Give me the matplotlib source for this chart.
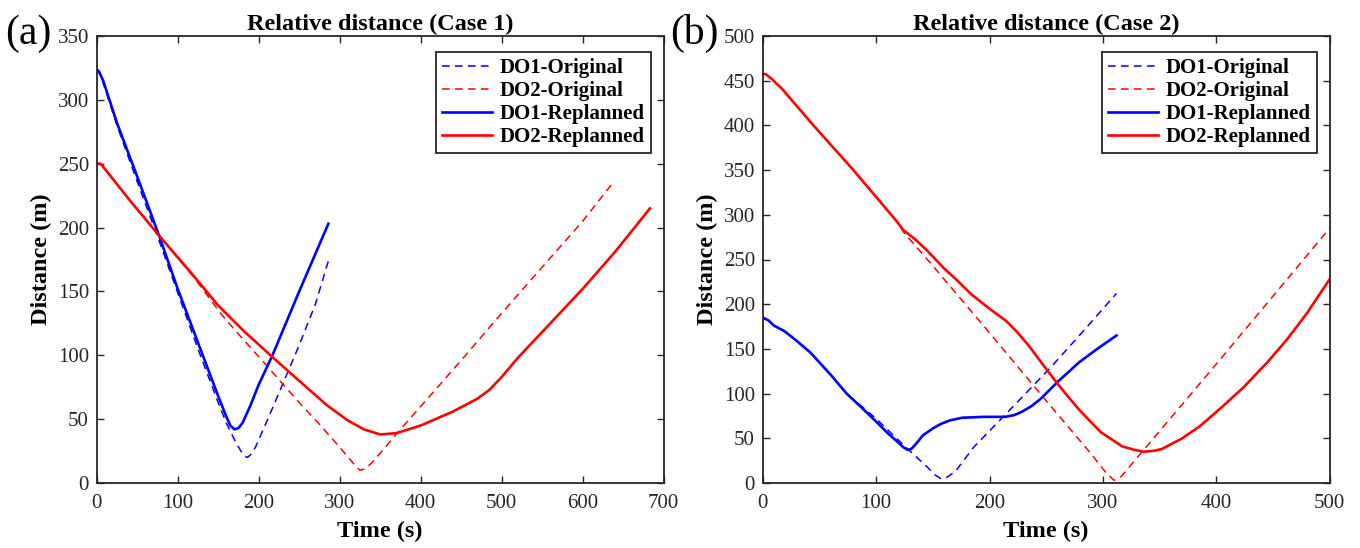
import matplotlib
matplotlib.use("Agg")
import matplotlib.pyplot as plt

plt.rcParams['font.family'] = ['Liberation Serif', 'DejaVu Serif']
plt.rcParams['mathtext.fontset'] = 'stix'

# ---------------- Case 1 data ----------------
a_do1_orig_t = [0, 5, 25, 50, 78, 100, 125, 150, 160, 170, 178, 183, 186, 190, 196, 205, 220, 232, 250, 270, 287]
a_do1_orig_d = [324, 319, 280, 236, 188, 149, 105, 63, 47, 34, 25, 21, 20, 22, 28, 41, 63, 81, 108, 140, 176]

a_do2_orig_t = [0, 5, 40, 78, 120, 154, 180, 200, 225, 250, 275, 300, 312, 320, 325, 331, 340, 355, 375, 400, 450, 500, 550, 600, 636]
a_do2_orig_d = [250, 250, 222, 193, 161, 132, 113, 99, 81, 63, 46, 28, 19, 13, 10, 11, 16, 27, 42, 60, 96, 133, 169, 205, 234]

a_do1_repl_t = [0, 3, 8, 25, 50, 78, 100, 125, 150, 160, 165, 170, 175, 180, 190, 200, 217, 250, 286]
a_do1_repl_d = [324, 322, 315, 282, 240, 192, 152, 110, 68, 52, 45, 42, 43, 47, 61, 77, 100, 150, 203]

a_do2_repl_t = [0, 5, 40, 78, 120, 150, 180, 218, 250, 284, 310, 330, 350, 370, 400, 440, 470, 485, 500, 520, 560, 600, 640, 683]
a_do2_repl_d = [250, 250, 222, 193, 162, 139, 120, 98, 80, 61, 49, 42, 38, 39, 45, 56, 66, 73, 83, 98, 125, 152, 181, 215]

# ---------------- Case 2 data ----------------
b_do1_orig_t = [0, 5, 10, 19, 30, 42, 60, 74, 100, 127, 145, 152, 157, 162, 170, 186, 209, 253, 280, 312]
b_do1_orig_d = [185, 182, 176, 170, 159, 146, 121, 100, 72, 39, 18, 9, 5, 6, 13, 40, 70, 128, 166, 212]

b_do2_orig_t = [0, 3, 8, 12, 17, 42, 80, 100, 118, 124, 150, 200, 250, 290, 303, 310, 316, 330, 350, 400, 450, 500]
b_do2_orig_d = [458, 457, 452, 447, 441, 404, 350, 320, 293, 281, 243, 168, 92, 32, 11, 3, 7, 28, 58, 133, 209, 285]

b_do1_repl_t = [0, 5, 10, 19, 30, 42, 60, 74, 85, 99, 110, 118, 124, 128, 131, 136, 141, 150, 157, 165, 176, 195, 214, 222, 229, 237, 245, 260, 279, 295, 312]
b_do1_repl_d = [185, 182, 176, 170, 159, 146, 121, 100, 87, 70, 56, 47, 40, 37, 38, 45, 53, 61, 66, 70, 73, 74, 74, 76, 80, 86, 94, 113, 135, 150, 165]

b_do2_repl_t = [0, 3, 8, 12, 17, 42, 80, 100, 118, 124, 135, 145, 160, 172, 184, 200, 215, 225, 235, 245, 260, 279, 298, 317, 328, 336, 345, 352, 370, 386, 405, 424, 445, 462, 480, 500]
b_do2_repl_d = [458, 457, 452, 447, 441, 404, 350, 320, 293, 283, 272, 260, 240, 226, 211, 195, 181, 168, 153, 136, 111, 82, 57, 41, 37, 35, 36, 38, 50, 64, 85, 107, 135, 160, 190, 228]

legend_labels = ["DO1-Original", "DO2-Original", "DO1-Replanned", "DO2-Replanned"]
titles = ["Relative distance (Case 1)", "Relative distance (Case 2)"]
a_xticks = [0, 100, 200, 300, 400, 500, 600, 700]
a_yticks = [0, 50, 100, 150, 200, 250, 300, 350]
b_xticks = [0, 100, 200, 300, 400, 500]
b_yticks = [0, 50, 100, 150, 200, 250, 300, 350, 400, 450, 500]

W, H = 1360, 548
fig = plt.figure(figsize=(W / 100, H / 100), dpi=100)

ax_w = 567 / W
ax_h = 447 / H
ax_b = 1 - 483 / H
axa = fig.add_axes([96.7 / W, ax_b, ax_w, ax_h])
axb = fig.add_axes([762.7 / W, ax_b, ax_w, ax_h])

dash = (0, (5, 3.5))
spine_c = '#262626'

def draw(ax, d1o, d2o, d1r, d2r, xt, yt, title):
    ax.plot(d1o[0], d1o[1], color='#0000ff', lw=1.1, linestyle=dash, label=legend_labels[0])
    ax.plot(d2o[0], d2o[1], color='#ff0000', lw=1.1, linestyle=dash, label=legend_labels[1])
    ax.plot(d1r[0], d1r[1], color='#0000ff', lw=1.9, label=legend_labels[2])
    ax.plot(d2r[0], d2r[1], color='#ff0000', lw=1.9, label=legend_labels[3])
    ax.set_xlim(xt[0], xt[-1])
    ax.set_ylim(yt[0], yt[-1])
    ax.set_xticks(xt)
    ax.set_yticks(yt)
    ax.tick_params(direction='in', top=True, right=True, length=5, width=1.0,
                   labelsize=15, colors=spine_c)
    ax.tick_params(axis='x', pad=8)
    ax.tick_params(axis='y', pad=5.5)
    for s in ax.spines.values():
        s.set_linewidth(1.3)
        s.set_color(spine_c)
    ax.set_title(title, fontsize=17.5, fontweight='bold', pad=4.0)
    ax.set_xlabel("Time (s)", fontsize=17.5, fontweight='bold', labelpad=5.5)
    ax.set_ylabel("Distance (m)", fontsize=17.5, fontweight='bold', labelpad=4)
    leg = ax.legend(loc='upper right', bbox_to_anchor=(0.977, 0.964), fancybox=False,
                    framealpha=1, edgecolor='#262626', borderpad=0.28, labelspacing=0.15,
                    handlelength=2.4, handletextpad=0.36, borderaxespad=0.0,
                    prop={'size': 15, 'weight': 'bold'})
    leg.get_frame().set_linewidth(1.3)

draw(axa, (a_do1_orig_t, a_do1_orig_d), (a_do2_orig_t, a_do2_orig_d),
     (a_do1_repl_t, a_do1_repl_d), (a_do2_repl_t, a_do2_repl_d), a_xticks, a_yticks, titles[0])
draw(axb, (b_do1_orig_t, b_do1_orig_d), (b_do2_orig_t, b_do2_orig_d),
     (b_do1_repl_t, b_do1_repl_d), (b_do2_repl_t, b_do2_repl_d), b_xticks, b_yticks, titles[1])

fig.text(5.5 / W, 1 - 43.5 / H, "(a)", fontsize=30, ha='left', va='baseline')
fig.text(670.5 / W, 1 - 43.5 / H, "(b)", fontsize=30, ha='left', va='baseline')

fig.savefig("out.png", dpi=100)
